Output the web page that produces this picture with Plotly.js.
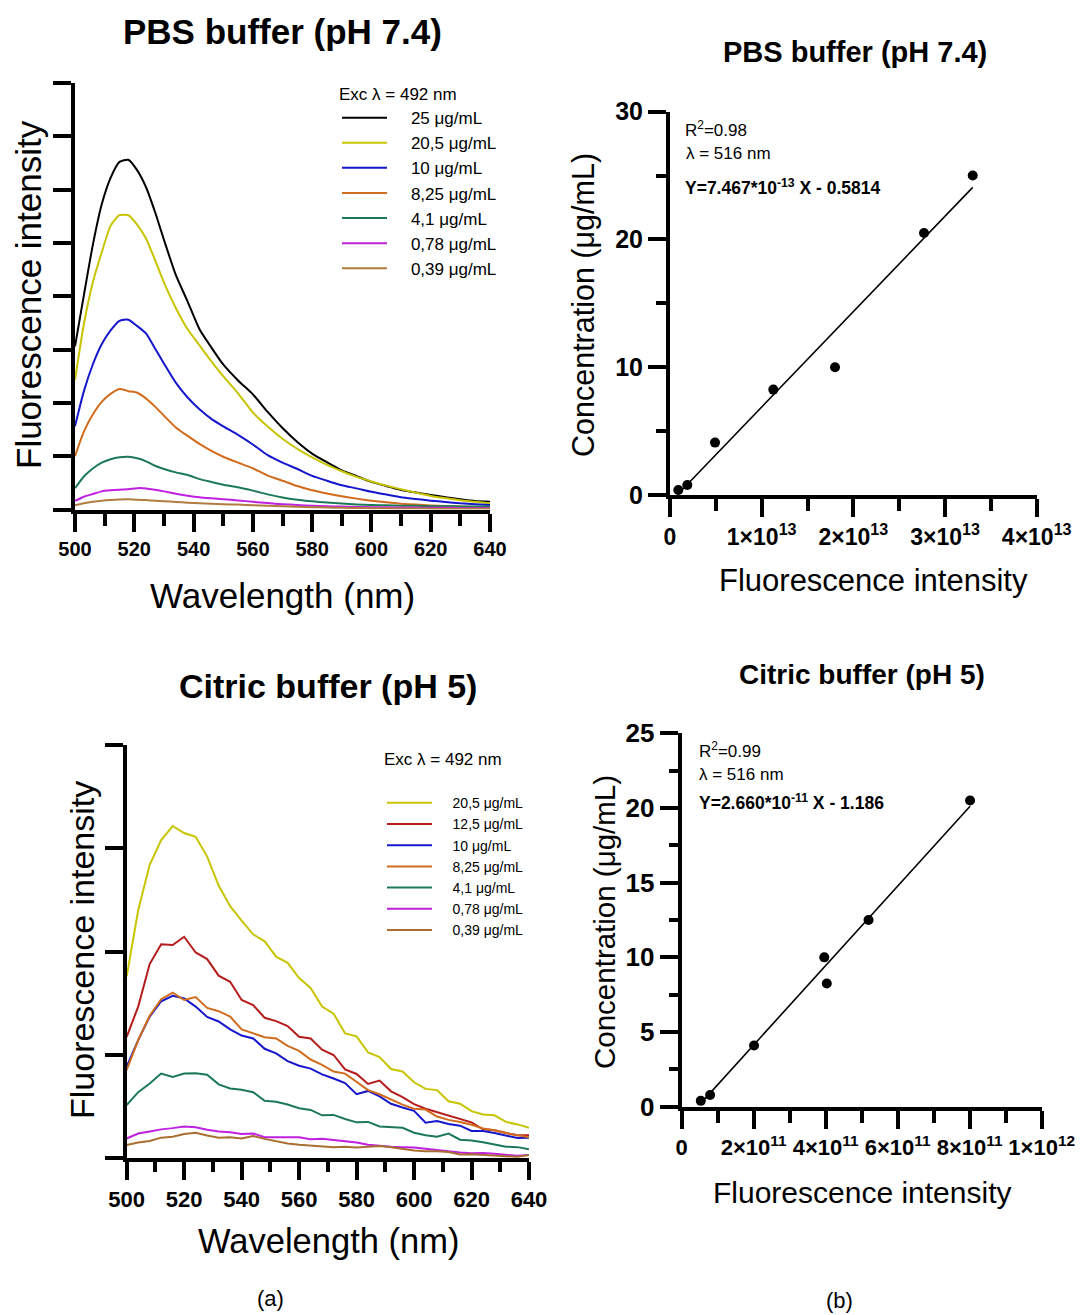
<!DOCTYPE html>
<html>
<head>
<meta charset="utf-8">
<script src="https://cdn.plot.ly/plotly-3.0.1.min.js"></script>
<style>html,body{margin:0;padding:0;background:#fff;}#chart{width:1082px;height:1315px;}</style>
</head>
<body>
<div id="chart"></div>
<script>
// ---------- DATA ----------
// (a) top: PBS buffer emission spectra (intensity in units of 10^12 a.u.)
const wavelengthPBS = [500,503,506,509,512,515,518,521,524,527,530,534,538,542,546,550,555,560,565,570,575,580,585,590,595,600,605,610,615,620,625,630,635,640];
const pbs25   = [15.3,20.1,24.8,28.6,31.1,32.6,32.8,31.8,30.2,27.9,25.3,22.0,19.5,16.9,15.2,13.6,12.1,10.8,9.15,7.64,6.33,5.24,4.43,3.67,3.13,2.59,2.21,1.82,1.59,1.36,1.16,0.96,0.79,0.72];
const pbs20_5 = [12.15,17.4,21.3,24.1,26.6,27.6,27.6,26.7,25.4,23.4,21.3,18.9,16.9,15.4,13.9,12.5,10.9,9.1,7.78,6.63,5.68,4.88,4.18,3.59,3.06,2.63,2.24,1.90,1.58,1.27,1.06,0.86,0.72,0.58];
const pbs10   = [7.8,11.1,13.6,15.5,16.8,17.7,17.8,17.2,16.5,15.1,13.7,11.9,10.5,9.4,8.5,7.8,7.0,6.1,5.1,4.4,3.8,3.15,2.7,2.28,1.98,1.66,1.40,1.14,0.98,0.83,0.70,0.58,0.50,0.42];
const pbs8_25 = [5.0,7.3,8.9,10.1,10.85,11.3,11.1,10.95,10.4,9.65,8.8,7.7,6.9,6.15,5.5,4.95,4.4,3.87,3.18,2.7,2.2,1.8,1.5,1.24,1.02,0.83,0.68,0.55,0.46,0.38,0.32,0.28,0.24,0.2];
const pbs4_1  = [2.0,3.1,3.85,4.4,4.72,4.9,4.95,4.8,4.52,4.1,3.8,3.48,3.23,2.85,2.58,2.33,2.08,1.77,1.42,1.13,0.92,0.77,0.65,0.56,0.48,0.42,0.39,0.36,0.34,0.31,0.3,0.29,0.28,0.27];
const pbs0_78 = [0.8,1.2,1.45,1.7,1.8,1.86,1.9,2.0,1.98,1.85,1.7,1.48,1.3,1.15,1.05,0.96,0.85,0.72,0.6,0.5,0.42,0.35,0.3,0.27,0.24,0.22,0.2,0.19,0.18,0.17,0.16,0.15,0.14,0.13];
const pbs0_39 = [0.4,0.58,0.72,0.83,0.9,0.94,0.95,0.92,0.88,0.83,0.78,0.7,0.64,0.58,0.54,0.5,0.46,0.4,0.35,0.3,0.26,0.22,0.19,0.16,0.14,0.12,0.11,0.1,0.09,0.08,0.08,0.07,0.07,0.06];
const pbsNames = ['25 μg/mL','20,5 μg/mL','10 μg/mL','8,25 μg/mL','4,1 μg/mL','0,78 μg/mL','0,39 μg/mL'];

// (a) bottom: Citric buffer emission spectra (intensity in units of 10^11 a.u.)
const wavelengthCit = [500,504,508,512,516,520,524,528,532,536,540,544,548,552,556,560,564,568,572,576,580,584,588,592,596,600,604,608,612,616,620,624,628,632,636,640];
const cit20_5 = [4.40,6.0,7.1,7.7,8.04,7.87,7.78,7.3,6.6,6.1,5.75,5.42,5.25,4.88,4.73,4.36,4.12,3.67,3.5,3.02,2.95,2.56,2.45,2.16,2.1,1.84,1.68,1.65,1.38,1.32,1.14,1.06,1.04,0.88,0.82,0.74];
const cit12_5 = [2.94,3.67,4.70,5.18,5.16,5.36,4.98,4.82,4.42,4.27,3.83,3.71,3.40,3.32,3.2,2.94,2.90,2.63,2.50,2.15,2.04,1.8,1.88,1.62,1.48,1.31,1.2,1.12,1.04,0.96,0.87,0.70,0.68,0.61,0.56,0.56];
const cit10   = [2.22,2.86,3.43,3.80,3.93,3.87,3.67,3.42,3.31,3.12,2.97,2.90,2.65,2.54,2.35,2.24,2.17,2.03,1.93,1.82,1.55,1.63,1.50,1.32,1.23,1.15,0.86,0.90,0.83,0.79,0.66,0.66,0.61,0.55,0.49,0.50];
const cit8_25 = [2.14,2.86,3.45,3.85,4.01,3.83,3.90,3.64,3.56,3.43,3.12,3.03,2.93,2.90,2.72,2.60,2.39,2.26,2.10,2.05,1.85,1.65,1.55,1.43,1.30,1.20,1.18,1.01,0.93,0.88,0.81,0.72,0.68,0.61,0.56,0.51];
const cit4_1  = [1.29,1.60,1.81,2.05,1.97,2.05,2.06,2.02,1.79,1.69,1.66,1.60,1.39,1.37,1.30,1.21,1.17,1.04,1.05,0.95,0.87,0.88,0.77,0.75,0.74,0.62,0.56,0.52,0.6,0.45,0.43,0.39,0.34,0.28,0.27,0.22];
const cit0_78 = [0.48,0.60,0.65,0.70,0.73,0.77,0.75,0.69,0.65,0.63,0.59,0.60,0.51,0.51,0.50,0.51,0.46,0.47,0.44,0.41,0.38,0.33,0.30,0.28,0.27,0.26,0.23,0.20,0.16,0.14,0.12,0.13,0.11,0.09,0.06,0.08];
const cit0_39 = [0.32,0.38,0.42,0.50,0.52,0.59,0.62,0.55,0.50,0.51,0.48,0.54,0.47,0.42,0.36,0.33,0.31,0.30,0.27,0.28,0.26,0.28,0.30,0.27,0.23,0.19,0.17,0.17,0.15,0.09,0.10,0.08,0.06,0.05,0.04,0.08];
const citNames = ['20,5 μg/mL','12,5 μg/mL','10 μg/mL','8,25 μg/mL','4,1 μg/mL','0,78 μg/mL','0,39 μg/mL'];

// (b) calibration data
const pbsIntensity = [9.1e11, 1.89e12, 4.91e12, 1.127e13, 1.80e13, 2.771e13, 3.302e13];
const pbsConc      = [0.39, 0.78, 4.1, 8.25, 10, 20.5, 25];
const pbsSlope = 7.467e-13, pbsIntercept = -0.5814;
const citIntensity = [5.3e10, 7.9e10, 2.01e11, 3.96e11, 4.03e11, 5.19e11, 8.01e11];
const citConc      = [0.39, 0.78, 4.1, 10, 8.25, 12.5, 20.5];
const citSlope = 2.660e-11, citIntercept = -1.186;

// tick labels
const pbsXTickVals = [0, 1e13, 2e13, 3e13, 4e13];
const pbsXTickText = ['0', '1×10<sup>13</sup>', '2×10<sup>13</sup>', '3×10<sup>13</sup>', '4×10<sup>13</sup>'];
const pbsXMinorVals = [5e12, 1.5e13, 2.5e13, 3.5e13];
const citXTickVals = [0, 2e11, 4e11, 6e11, 8e11, 1e12];
const citXTickText = ['0', '2×10<sup>11</sup>', '4×10<sup>11</sup>', '6×10<sup>11</sup>', '8×10<sup>11</sup>', '1×10<sup>12</sup>'];
const citXMinorVals = [1e11, 3e11, 5e11, 7e11, 9e11];

// ---------- STYLE ----------
const FONT = 'Liberation Sans, Arial, Helvetica, sans-serif';
const pbsColors = ['#000000', '#c8c400', '#1616cc', '#d06c1e', '#1b7a55', '#c020e0', '#b07c40'];
const citColors = ['#c8c400', '#b51c1c', '#1616cc', '#d06c1e', '#1b7a55', '#c020e0', '#a86f30'];
const PAD = '\u00a0\u00a0\u00a0\u00a0';   // gap between legend line sample and label

const W = 1082, H = 1315;
const fx = p => p / W;
const fy = p => 1 - p / H;

const traces = [];
[pbs25, pbs20_5, pbs10, pbs8_25, pbs4_1, pbs0_78, pbs0_39].forEach((ys, i) => {
  traces.push({
    x: wavelengthPBS, y: ys, type: 'scatter', mode: 'lines', name: PAD + pbsNames[i],
    line: {color: pbsColors[i], width: 2, shape: 'spline', smoothing: 0.6},
    xaxis: 'x', yaxis: 'y', legend: 'legend', legendgroup: 'p' + i
  });
});
[cit20_5, cit12_5, cit10, cit8_25, cit4_1, cit0_78, cit0_39].forEach((ys, i) => {
  traces.push({
    x: wavelengthCit, y: ys, type: 'scatter', mode: 'lines', name: PAD + citNames[i],
    line: {color: citColors[i], width: 2},
    xaxis: 'x3', yaxis: 'y3', legend: 'legend2', legendgroup: 'c' + i
  });
});

function fitLine(xs, slope, intercept) {
  const lo = Math.min(...xs), hi = Math.max(...xs);
  return {x: [lo, hi], y: [slope * lo + intercept, slope * hi + intercept]};
}
const pbsFit = fitLine(pbsIntensity, pbsSlope, pbsIntercept);
const citFit = fitLine(citIntensity, citSlope, citIntercept);

traces.push({x: pbsFit.x, y: pbsFit.y, type: 'scatter', mode: 'lines', line: {color: '#000', width: 1.6}, xaxis: 'x2', yaxis: 'y2', showlegend: false});
traces.push({x: pbsIntensity, y: pbsConc, type: 'scatter', mode: 'markers', marker: {color: '#000', size: 10}, xaxis: 'x2', yaxis: 'y2', showlegend: false});
traces.push({x: citFit.x, y: citFit.y, type: 'scatter', mode: 'lines', line: {color: '#000', width: 1.6}, xaxis: 'x4', yaxis: 'y4', showlegend: false});
traces.push({x: citIntensity, y: citConc, type: 'scatter', mode: 'markers', marker: {color: '#000', size: 10}, xaxis: 'x4', yaxis: 'y4', showlegend: false});

const baseAxis = {
  showline: true, linecolor: '#000', linewidth: 4, showgrid: false, zeroline: false,
  ticks: 'outside', ticklen: 18, tickwidth: 4, tickcolor: '#000', fixedrange: true
};
function ax(extra) { return Object.assign({}, baseAxis, extra); }

const layout = {
  width: W, height: H,
  margin: {l: 0, r: 0, t: 0, b: 0},
  paper_bgcolor: '#fff', plot_bgcolor: '#fff',
  font: {family: FONT, color: '#000', size: 14},
  xaxis: ax({domain: [fx(75), fx(490)], anchor: 'y', range: [500, 640], tickmode: 'linear', tick0: 500, dtick: 20,
             tickfont: {size: 20, weight: 'bold', family: FONT},
             minor: {ticks: 'outside', tickmode: 'linear', tick0: 500, dtick: 10, ticklen: 12, tickwidth: 4, tickcolor: '#000'}}),
  yaxis: ax({domain: [fy(509.5), fy(83)], anchor: 'x', range: [0, 40], tickmode: 'linear', tick0: 0, dtick: 5, showticklabels: false}),
  xaxis2: ax({domain: [fx(670), fx(1036.7)], anchor: 'y2', range: [0, 4e13], tickmode: 'array', tickvals: pbsXTickVals, ticktext: pbsXTickText,
              tickfont: {size: 23, weight: 'bold', family: FONT},
              minor: {ticks: 'outside', tickmode: 'array', tickvals: pbsXMinorVals, ticklen: 12, tickwidth: 4, tickcolor: '#000'}}),
  yaxis2: ax({domain: [fy(495), fy(111.7)], anchor: 'x2', range: [0, 30], tickmode: 'linear', tick0: 0, dtick: 10,
              tickfont: {size: 25, weight: 'bold', family: FONT},
              minor: {ticks: 'outside', tickmode: 'linear', tick0: 0, dtick: 5, ticklen: 10, tickwidth: 4, tickcolor: '#000'}}),
  xaxis3: ax({domain: [fx(126.7), fx(529)], anchor: 'y3', range: [500, 640], tickmode: 'linear', tick0: 500, dtick: 20,
              tickfont: {size: 22, weight: 'bold', family: FONT},
              minor: {ticks: 'outside', tickmode: 'linear', tick0: 500, dtick: 10, ticklen: 10, tickwidth: 4, tickcolor: '#000'}}),
  yaxis3: ax({domain: [fy(1158.3), fy(745)], anchor: 'x3', range: [0, 10], tickmode: 'linear', tick0: 0, dtick: 2.5, showticklabels: false}),
  xaxis4: ax({domain: [fx(681.7), fx(1041.7)], anchor: 'y4', range: [0, 1e12], tickmode: 'array', tickvals: citXTickVals, ticktext: citXTickText,
              tickfont: {size: 22, weight: 'bold', family: FONT},
              minor: {ticks: 'outside', tickmode: 'array', tickvals: citXMinorVals, ticklen: 12, tickwidth: 4, tickcolor: '#000'}}),
  yaxis4: ax({domain: [fy(1106.7), fy(733.3)], anchor: 'x4', range: [0, 25], tickmode: 'linear', tick0: 0, dtick: 5,
              tickfont: {size: 26, weight: 'bold', family: FONT},
              minor: {ticks: 'outside', tickmode: 'linear', tick0: 0, dtick: 2.5, ticklen: 9, tickwidth: 4, tickcolor: '#000'}}),
  legend: {x: fx(337), y: fy(78), xanchor: 'left', yanchor: 'top', bgcolor: 'rgba(0,0,0,0)',
           font: {size: 17, family: FONT}, itemwidth: 45, traceorder: 'grouped', tracegroupgap: 0,
           title: {text: 'Exc λ = 492 nm', font: {size: 17, family: FONT}}},
  legend2: {x: fx(382), y: fy(743), xanchor: 'left', yanchor: 'top', bgcolor: 'rgba(0,0,0,0)',
            font: {size: 14, family: FONT}, itemwidth: 45, traceorder: 'grouped', tracegroupgap: 0,
            title: {text: 'Exc λ = 492 nm<br> ', font: {size: 17, family: FONT}}},
  showlegend: true,
  annotations: []
};

function note(text, xp, yp, size, opts) {
  layout.annotations.push(Object.assign({
    text: text, x: fx(xp), y: fy(yp), xref: 'paper', yref: 'paper', showarrow: false,
    xanchor: 'center', yanchor: 'middle', font: {size: size, family: FONT, color: '#000'}
  }, opts || {}));
}
// panel titles
note('<b>PBS buffer (pH 7.4)</b>', 282, 32, 35);
note('<b>PBS buffer (pH 7.4)</b>', 855, 52, 29);
note('<b>Citric buffer (pH 5)</b>', 328, 686, 34);
note('<b>Citric buffer (pH 5)</b>', 862, 675, 28);
// axis titles
note('Fluorescence intensity', 28, 295, 35, {textangle: -90});
note('Wavelength (nm)', 282, 595, 35);
note('Concentration (μg/mL)', 583, 305, 30.5, {textangle: -90});
note('Fluorescence intensity', 873, 580, 31);
note('Fluorescence intensity', 82, 950, 34, {textangle: -90});
note('Wavelength (nm)', 328, 1241, 34.5);
note('Concentration (μg/mL)', 604, 922, 29.5, {textangle: -90});
note('Fluorescence intensity', 862, 1192, 30);
// fit statistics
note('R<sup>2</sup>=0.98', 683, 129, 17, {xanchor: 'left'});
note('λ = 516 nm', 684, 154, 17, {xanchor: 'left'});
note('<b>Y=7.467*10<sup>-13</sup> X - 0.5814</b>', 683, 187, 17.5, {xanchor: 'left'});
note('R<sup>2</sup>=0.99', 697, 750, 17, {xanchor: 'left'});
note('λ = 516 nm', 697, 774, 17, {xanchor: 'left'});
note('<b>Y=2.660*10<sup>-11</sup> X - 1.186</b>', 697, 802, 17.5, {xanchor: 'left'});
// panel labels
note('(a)', 270, 1298, 22);
note('(b)', 840, 1300, 22);

Plotly.newPlot('chart', traces, layout, {staticPlot: true, displayModeBar: false});
</script>
</body>
</html>
